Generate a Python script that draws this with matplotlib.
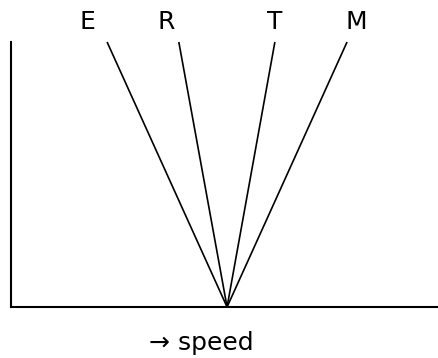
import matplotlib
matplotlib.use("Agg")
import matplotlib.pyplot as plt

# Data (conceptual: speed at the common origin and at the top of each line)
labels = ["E", "R", "T", "M"]
apex_speed = 50.6
top_speed = [22.5, 39.3, 61.8, 78.7]
label_speed = [17.8, 36.3, 61.8, 80.8]
top_value = 100.0
xlabel_text = "\u2192 speed"

plt.rcParams['font.family'] = ['DejaVu Sans Condensed', 'DejaVu Sans']

W, H = 438, 358
fig = plt.figure(figsize=(W / 100, H / 100), dpi=100)
left, right, top, bottom = 11, 438, 42, 307
ax = fig.add_axes([left / W, 1 - bottom / H, (right - left) / W, (bottom - top) / H])
ax.set_xlim(0, 100)
ax.set_ylim(0, 100)

for lab, ts, ls in zip(labels, top_speed, label_speed):
    ax.plot([apex_speed, ts], [0, top_value], color="black", lw=1.2,
            solid_capstyle="butt", clip_on=False)
    ax.text(ls, 104.9, lab, ha="center", va="baseline", fontsize=18,
            color="black")

for s in ["top", "right"]:
    ax.spines[s].set_visible(False)
for s in ["left", "bottom"]:
    ax.spines[s].set_linewidth(1.5)
    ax.spines[s].set_color("black")
ax.set_xticks([])
ax.set_yticks([])

fig.text(201 / W, 1 - 350 / H, xlabel_text, ha="center", va="baseline",
         fontsize=18, color="black")

fig.savefig("out.png", dpi=100)
